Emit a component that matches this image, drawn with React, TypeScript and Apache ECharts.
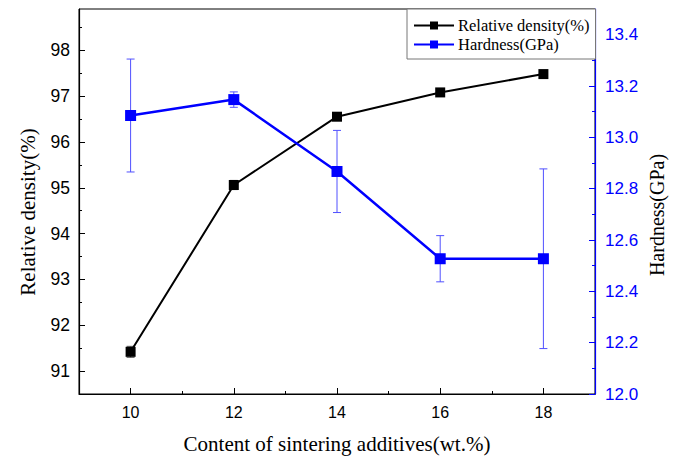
import React, { useEffect, useRef } from "react";
import * as echarts from "echarts";

const xValues = [10, 12, 14, 16, 18];
const densityValues = [91.42, 95.06, 96.55, 97.08, 97.48];
const densityErrors = [0.12, 0.1, 0.05, 0.05, 0.04];
const hardnessValues = [13.085, 13.147, 12.867, 12.527, 12.527];
const hardnessErrors = [0.22, 0.03, 0.16, 0.09, 0.35];

const xTicks = [10, 12, 14, 16, 18];
const xMinorTicks = [11, 13, 15, 17];
const densityTicks = [91, 92, 93, 94, 95, 96, 97, 98];
const densityMinorTicks = [91.5, 92.5, 93.5, 94.5, 95.5, 96.5, 97.5, 98.5];
const hardnessTicks = [12.0, 12.2, 12.4, 12.6, 12.8, 13.0, 13.2, 13.4];
const hardnessMinorTicks = [12.1, 12.3, 12.5, 12.7, 12.9, 13.1, 13.3];

const xTitle = "Content of sintering additives(wt.%)";
const leftTitle = "Relative density(%)";
const rightTitle = "Hardness(GPa)";

const BLUE = "#0000ff";
const SANS = "Liberation Sans";
const SERIF = "Liberation Serif";

function errorRenderer(color: string, lw: number) {
  return (params: any, api: any) => {
    const x = api.value(0);
    const lo = api.value(1);
    const hi = api.value(2);
    const p0 = api.coord([x, lo]);
    const p1 = api.coord([x, hi]);
    const hw = 4;
    const style = { stroke: color, lineWidth: lw };
    return {
      type: "group",
      children: [
        { type: "line", shape: { x1: p0[0], y1: p0[1], x2: p1[0], y2: p1[1] }, style },
        { type: "line", shape: { x1: p0[0] - hw, y1: p0[1], x2: p0[0] + hw, y2: p0[1] }, style },
        { type: "line", shape: { x1: p1[0] - hw, y1: p1[1], x2: p1[0] + hw, y2: p1[1] }, style },
      ],
    };
  };
}

export default function App() {
  const ref = useRef<HTMLDivElement>(null);
  useEffect(() => {
    if (!ref.current) return;
    const chart = echarts.init(ref.current, undefined, { renderer: "svg" });
    const densityData = xValues.map((x, i) => [x, densityValues[i]]);
    const hardnessData = xValues.map((x, i) => [x, hardnessValues[i]]);
    const densityErr = xValues.map((x, i) => [x, densityValues[i] - densityErrors[i], densityValues[i] + densityErrors[i]]);
    const hardnessErr = xValues.map((x, i) => [x, hardnessValues[i] - hardnessErrors[i], hardnessValues[i] + hardnessErrors[i]]);

    const minorAxisBase = {
      type: "value",
      axisLine: { show: false },
      axisLabel: { show: false },
      splitLine: { show: false },
    };

    chart.setOption({
      animation: false,
      backgroundColor: "#fff",
      grid: { show: true, borderColor: "#000", borderWidth: 1, left: 79, right: 85, top: 9, bottom: 66 },
      graphic: [
        {
          type: "text",
          x: 28,
          y: 212,
          rotation: Math.PI / 2,
          style: { text: leftTitle, fontFamily: SERIF, fontSize: 21, fill: "#000", align: "center", verticalAlign: "middle" },
        },
        {
          type: "text",
          x: 657,
          y: 215,
          rotation: Math.PI / 2,
          style: { text: rightTitle, fontFamily: SERIF, fontSize: 20, fill: "#000", align: "center", verticalAlign: "middle" },
        },
      ],
      legend: {
        data: [leftTitle, rightTitle],
        orient: "vertical",
        left: 407,
        top: 9,
        padding: [8, 6, 6, 6],
        itemWidth: 40,
        itemHeight: 10,
        itemGap: 2,
        borderColor: "#777",
        borderWidth: 1,
        backgroundColor: "#fff",
        textStyle: { fontFamily: SERIF, fontSize: 16.5, color: "#000", padding: [0, 0, 0, -1] },
      },
      xAxis: [
        {
          type: "value",
          min: 9,
          max: 19,
          position: "bottom",
          name: xTitle,
          nameLocation: "middle",
          nameGap: 39,
          nameTextStyle: { fontFamily: SERIF, fontSize: 21, color: "#000" },
          axisLine: { lineStyle: { color: "#000", width: 1.2 } },
          axisTick: { inside: true, length: 6, customValues: xTicks, lineStyle: { color: "#000" } },
          axisLabel: { customValues: xTicks, color: "#000", fontFamily: SANS, fontSize: 16, margin: 10 },
          splitLine: { show: false },
        },
        {
          ...minorAxisBase,
          min: 9,
          max: 19,
          position: "bottom",
          axisTick: { inside: true, length: 3, customValues: xMinorTicks, lineStyle: { color: "#000" } },
        },
      ],
      yAxis: [
        {
          type: "value",
          min: 90.5,
          max: 98.9,
          position: "left",
          axisLine: { show: true, lineStyle: { color: "#000", width: 1.2 } },
          axisTick: { show: true, inside: true, length: 6, customValues: densityTicks, lineStyle: { color: "#000" } },
          axisLabel: { customValues: densityTicks, color: "#000", fontFamily: SANS, fontSize: 17.5, margin: 9 },
          splitLine: { show: false },
        },
        {
          ...minorAxisBase,
          min: 90.5,
          max: 98.9,
          position: "left",
          axisTick: { show: true, inside: true, length: 3, customValues: densityMinorTicks, lineStyle: { color: "#000" } },
        },
        {
          type: "value",
          min: 12,
          max: 13.5,
          position: "right",
          axisLine: { show: true, lineStyle: { color: BLUE, width: 1.2 } },
          axisTick: { show: true, inside: true, length: 6, customValues: hardnessTicks, lineStyle: { color: BLUE } },
          axisLabel: {
            customValues: hardnessTicks,
            color: BLUE,
            fontFamily: SANS,
            fontSize: 17,
            margin: 10,
            formatter: (v: number) => v.toFixed(1),
          },
          splitLine: { show: false },
        },
        {
          ...minorAxisBase,
          min: 12,
          max: 13.5,
          position: "right",
          axisTick: { show: true, inside: true, length: 3, customValues: hardnessMinorTicks, lineStyle: { color: BLUE } },
        },
      ],
      series: [
        {
          type: "custom",
          xAxisIndex: 0,
          yAxisIndex: 2,
          renderItem: errorRenderer("#5050ff", 1),
          encode: { x: 0, y: [1, 2] },
          data: hardnessErr,
          z: 1,
          silent: true,
        },
        {
          type: "custom",
          xAxisIndex: 0,
          yAxisIndex: 0,
          renderItem: errorRenderer("#555", 1),
          encode: { x: 0, y: [1, 2] },
          data: densityErr,
          z: 1,
          silent: true,
        },
        {
          name: leftTitle,
          type: "line",
          xAxisIndex: 0,
          yAxisIndex: 0,
          data: densityData,
          symbol: "rect",
          symbolSize: 10,
          lineStyle: { color: "#000", width: 2 },
          itemStyle: { color: "#000" },
          z: 3,
        },
        {
          name: rightTitle,
          type: "line",
          xAxisIndex: 0,
          yAxisIndex: 2,
          data: hardnessData,
          symbol: "rect",
          symbolSize: 11,
          lineStyle: { color: BLUE, width: 2.5 },
          itemStyle: { color: BLUE },
          z: 3,
        },
      ],
    });
    return () => chart.dispose();
  }, []);
  return <div ref={ref} style={{ position: "fixed", left: 0, top: 0, width: 680, height: 460 }} />;
}
